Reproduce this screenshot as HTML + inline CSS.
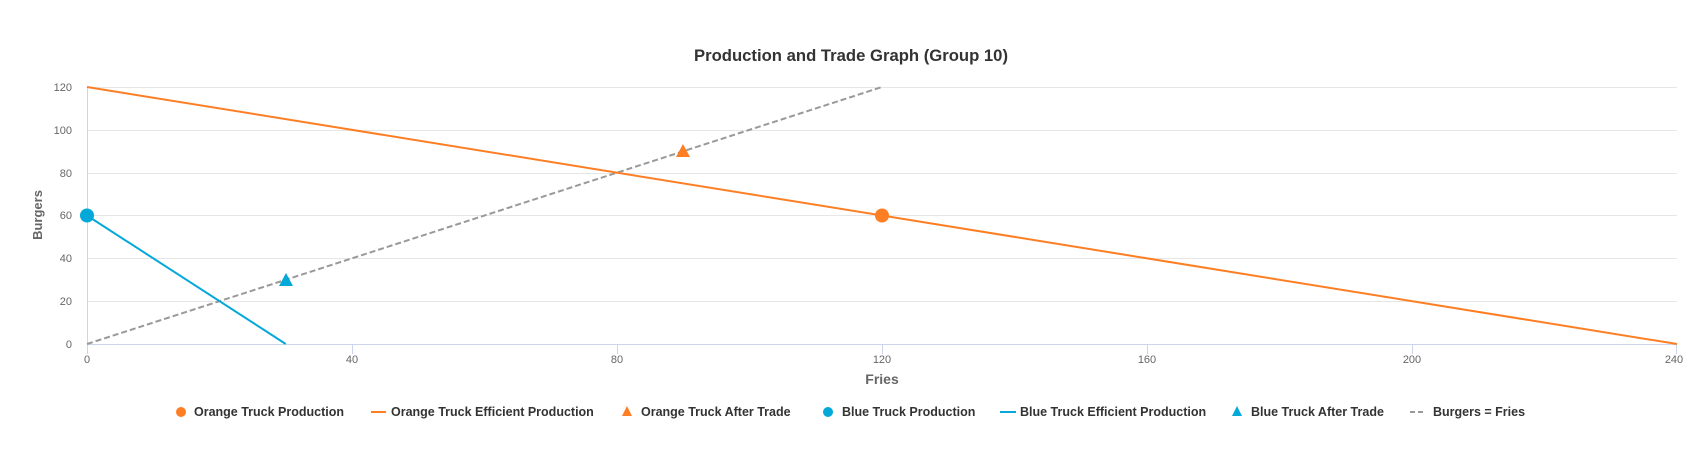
<!DOCTYPE html>
<html><head><style>body{margin:0;background:#fff}svg{display:block;font-family:"Liberation Sans",sans-serif}</style></head>
<body>
<svg width="1701" height="453" xmlns="http://www.w3.org/2000/svg">
<text x="851" y="61" text-anchor="middle" font-size="17" font-weight="bold" fill="#333" textLength="314" lengthAdjust="spacingAndGlyphs">Production and Trade Graph (Group 10)</text>
<g stroke="#e6e6e6" stroke-width="1">
<line x1="87" x2="1677" y1="87.5" y2="87.5"/><line x1="87" x2="1677" y1="130.5" y2="130.5"/>
<line x1="87" x2="1677" y1="173.5" y2="173.5"/><line x1="87" x2="1677" y1="215.5" y2="215.5"/>
<line x1="87" x2="1677" y1="258.5" y2="258.5"/><line x1="87" x2="1677" y1="301.5" y2="301.5"/>
</g>
<line x1="87.5" x2="87.5" y1="87" y2="344" stroke="#ccd6eb"/>
<line x1="87" x2="1677" y1="344.5" y2="344.5" stroke="#ccd6eb"/>
<g stroke="#ccd6eb"><line x1="87.5" x2="87.5" y1="344" y2="354"/><line x1="352.5" x2="352.5" y1="344" y2="354"/><line x1="617.5" x2="617.5" y1="344" y2="354"/><line x1="882.5" x2="882.5" y1="344" y2="354"/><line x1="1147.5" x2="1147.5" y1="344" y2="354"/><line x1="1412.5" x2="1412.5" y1="344" y2="354"/><line x1="1676.5" x2="1676.5" y1="344" y2="354"/></g>
<g font-size="11" fill="#666" text-anchor="end">
<text x="72" y="91">120</text><text x="72" y="134">100</text><text x="72" y="177">80</text><text x="72" y="219">60</text><text x="72" y="262">40</text><text x="72" y="305">20</text><text x="72" y="348">0</text></g>
<g font-size="11" fill="#666" text-anchor="middle">
<text x="87" y="363">0</text><text x="352" y="363">40</text><text x="617" y="363">80</text><text x="882" y="363">120</text><text x="1147" y="363">160</text><text x="1412" y="363">200</text><text x="1674" y="363">240</text></g>
<text x="882" y="384" text-anchor="middle" font-size="14" font-weight="bold" fill="#666">Fries</text>
<text transform="translate(42,215) rotate(-90)" text-anchor="middle" font-size="13" font-weight="bold" fill="#666">Burgers</text>
<line x1="87" y1="344" x2="882" y2="87" stroke="#999" stroke-width="2" stroke-dasharray="6,3"/>
<line x1="87" y1="87" x2="1677" y2="344" stroke="#fd7e23" stroke-width="2"/>
<line x1="87" y1="215.5" x2="285.75" y2="344" stroke="#04a8d9" stroke-width="2"/>
<circle cx="882" cy="215.5" r="7" fill="#fd7e23"/>
<circle cx="87" cy="215.5" r="7" fill="#04a8d9"/>
<path d="M683 144 L690 157 L676 157Z" fill="#fd7e23"/>
<path d="M286 273 L293 286 L279 286Z" fill="#04a8d9"/>
<g font-size="12.5" font-weight="bold" fill="#333">
<circle cx="181" cy="412" r="5" fill="#fd7e23"/><text x="194" y="416">Orange Truck Production</text>
<line x1="371" x2="386" y1="412" y2="412" stroke="#fd7e23" stroke-width="2"/><text x="391" y="416">Orange Truck Efficient Production</text>
<path d="M627 406 L632 416 L622 416Z" fill="#fd7e23"/><text x="641" y="416">Orange Truck After Trade</text>
<circle cx="828" cy="412" r="5" fill="#04a8d9"/><text x="842" y="416">Blue Truck Production</text>
<line x1="1000" x2="1016" y1="412" y2="412" stroke="#04a8d9" stroke-width="2"/><text x="1020" y="416">Blue Truck Efficient Production</text>
<path d="M1237 406 L1242 416 L1232 416Z" fill="#04a8d9"/><text x="1251" y="416">Blue Truck After Trade</text>
<line x1="1410" x2="1426" y1="412" y2="412" stroke="#999" stroke-width="2" stroke-dasharray="5,3"/><text x="1433" y="416">Burgers = Fries</text>
</g>
</svg>
</body></html>
